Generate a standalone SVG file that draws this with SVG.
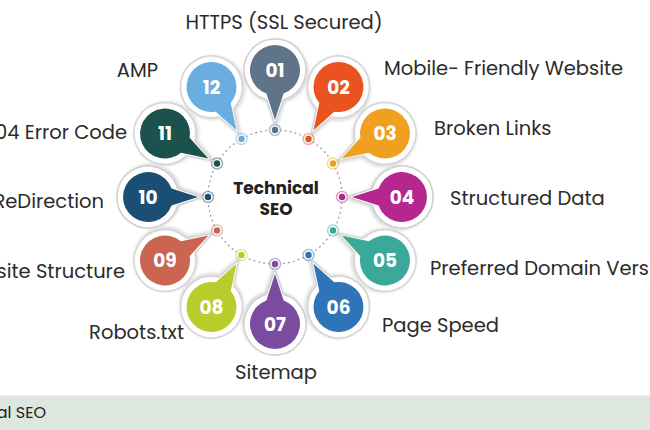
<svg xmlns="http://www.w3.org/2000/svg" xmlns:xlink="http://www.w3.org/1999/xlink" width="650" height="430" viewBox="0 0 650 430">
<style>
.lbl{font-family:"Poppins","Open Sans","Liberation Sans",sans-serif;font-size:19.5px;fill:#2b2b2b}
.num{font-family:"Poppins","Open Sans","Liberation Sans",sans-serif;font-size:18.5px;font-weight:700;fill:#ffffff;text-anchor:middle}
.ctr{font-family:"Poppins","Open Sans","Liberation Sans",sans-serif;font-size:17px;font-weight:700;fill:#222;text-anchor:middle}
.outer{fill:#ffffff;stroke:#cfcfcf;stroke-width:1.5}
.dotring{fill:#ffffff;stroke-width:1.5;stroke-opacity:0.45}
</style>
<defs>
<path id="pinOuter" d="M 8.5 29.8 A 31 31 0 1 0 -8.5 29.8 L 0 55 Z"/>
<path id="pinInner" d="M 8.6 23.5 A 25 25 0 1 0 -8.6 23.5 L 0 50 Z"/>
<filter id="sh" x="-30%" y="-30%" width="160%" height="160%">
<feDropShadow dx="1" dy="1.5" stdDeviation="1.5" flood-color="#000" flood-opacity="0.18"/>
</filter>
</defs>
<rect width="650" height="430" fill="#ffffff"/>

<g id="connectors">
<circle cx="275" cy="197" r="67" fill="none" stroke="#9a9a9a" stroke-width="1.2" stroke-dasharray="2 3"/>
</g>

<g id="center">
<text class="ctr" x="276" y="194">Technical</text>
<text class="ctr" x="276" y="215">SEO</text>
</g>

<g id="dots">
<g><circle class="dotring" cx="275" cy="130" r="5.5" stroke="#5f7389"/><circle cx="275" cy="130" r="3.2" fill="#5f7389"/></g>
<g><circle class="dotring" cx="308.5" cy="139" r="5.5" stroke="#e8531f"/><circle cx="308.5" cy="139" r="3.2" fill="#e8531f"/></g>
<g><circle class="dotring" cx="333" cy="163.5" r="5.5" stroke="#f0a020"/><circle cx="333" cy="163.5" r="3.2" fill="#f0a020"/></g>
<g><circle class="dotring" cx="342" cy="197" r="5.5" stroke="#b5278f"/><circle cx="342" cy="197" r="3.2" fill="#b5278f"/></g>
<g><circle class="dotring" cx="333" cy="230.5" r="5.5" stroke="#3aa99a"/><circle cx="333" cy="230.5" r="3.2" fill="#3aa99a"/></g>
<g><circle class="dotring" cx="308.5" cy="255" r="5.5" stroke="#2f73b9"/><circle cx="308.5" cy="255" r="3.2" fill="#2f73b9"/></g>
<g><circle class="dotring" cx="275" cy="264" r="5.5" stroke="#7b4ba0"/><circle cx="275" cy="264" r="3.2" fill="#7b4ba0"/></g>
<g><circle class="dotring" cx="241.5" cy="255" r="5.5" stroke="#b8cc2c"/><circle cx="241.5" cy="255" r="3.2" fill="#b8cc2c"/></g>
<g><circle class="dotring" cx="217" cy="230.5" r="5.5" stroke="#cc6452"/><circle cx="217" cy="230.5" r="3.2" fill="#cc6452"/></g>
<g><circle class="dotring" cx="208" cy="197" r="5.5" stroke="#1a4e72"/><circle cx="208" cy="197" r="3.2" fill="#1a4e72"/></g>
<g><circle class="dotring" cx="217" cy="163.5" r="5.5" stroke="#1c524e"/><circle cx="217" cy="163.5" r="3.2" fill="#1c524e"/></g>
<g><circle class="dotring" cx="241.5" cy="139" r="5.5" stroke="#6aaee0"/><circle cx="241.5" cy="139" r="3.2" fill="#6aaee0"/></g>
</g>

<g id="node01" transform="translate(275,70)">
<g transform="rotate(0)"><use href="#pinOuter" class="outer" filter="url(#sh)"/><use href="#pinInner" fill="#5f7389"/></g>
<text class="num" y="6.5">01</text>
</g>
<g id="node02" transform="translate(338.5,87)">
<g transform="rotate(30)"><use href="#pinOuter" class="outer" filter="url(#sh)"/><use href="#pinInner" fill="#e8531f"/></g>
<text class="num" y="6.5">02</text>
</g>
<g id="node03" transform="translate(385,133.5)">
<g transform="rotate(60)"><use href="#pinOuter" class="outer" filter="url(#sh)"/><use href="#pinInner" fill="#f0a020"/></g>
<text class="num" y="6.5">03</text>
</g>
<g id="node04" transform="translate(402,197)">
<g transform="rotate(90)"><use href="#pinOuter" class="outer" filter="url(#sh)"/><use href="#pinInner" fill="#b5278f"/></g>
<text class="num" y="6.5">04</text>
</g>
<g id="node05" transform="translate(385,260.5)">
<g transform="rotate(120)"><use href="#pinOuter" class="outer" filter="url(#sh)"/><use href="#pinInner" fill="#3aa99a"/></g>
<text class="num" y="6.5">05</text>
</g>
<g id="node06" transform="translate(338.5,307)">
<g transform="rotate(150)"><use href="#pinOuter" class="outer" filter="url(#sh)"/><use href="#pinInner" fill="#2f73b9"/></g>
<text class="num" y="6.5">06</text>
</g>
<g id="node07" transform="translate(275,324)">
<g transform="rotate(180)"><use href="#pinOuter" class="outer" filter="url(#sh)"/><use href="#pinInner" fill="#7b4ba0"/></g>
<text class="num" y="6.5">07</text>
</g>
<g id="node08" transform="translate(211.5,307)">
<g transform="rotate(210)"><use href="#pinOuter" class="outer" filter="url(#sh)"/><use href="#pinInner" fill="#b8cc2c"/></g>
<text class="num" y="6.5">08</text>
</g>
<g id="node09" transform="translate(165,260.5)">
<g transform="rotate(240)"><use href="#pinOuter" class="outer" filter="url(#sh)"/><use href="#pinInner" fill="#cc6452"/></g>
<text class="num" y="6.5">09</text>
</g>
<g id="node10" transform="translate(148,197)">
<g transform="rotate(270)"><use href="#pinOuter" class="outer" filter="url(#sh)"/><use href="#pinInner" fill="#1a4e72"/></g>
<text class="num" y="6.5">10</text>
</g>
<g id="node11" transform="translate(165,133.5)">
<g transform="rotate(300)"><use href="#pinOuter" class="outer" filter="url(#sh)"/><use href="#pinInner" fill="#1c524e"/></g>
<text class="num" y="6.5">11</text>
</g>
<g id="node12" transform="translate(211.5,87)">
<g transform="rotate(330)"><use href="#pinOuter" class="outer" filter="url(#sh)"/><use href="#pinInner" fill="#6aaee0"/></g>
<text class="num" y="6.5">12</text>
</g>

<g id="labels">
<text class="lbl" x="284" y="29" text-anchor="middle">HTTPS (SSL Secured)</text>
<text class="lbl" x="384" y="75">Mobile- Friendly Website</text>
<text class="lbl" x="434" y="135">Broken Links</text>
<text class="lbl" x="450" y="205">Structured Data</text>
<text class="lbl" x="430" y="275">Preferred Domain Version</text>
<text class="lbl" x="382" y="332">Page Speed</text>
<text class="lbl" x="276" y="379" text-anchor="middle">Sitemap</text>
<text class="lbl" x="184" y="339" text-anchor="end">Robots.txt</text>
<text class="lbl" x="125" y="278" text-anchor="end">Website Structure</text>
<text class="lbl" x="104" y="208" text-anchor="end">ReDirection</text>
<text class="lbl" x="127" y="139" text-anchor="end">404 Error Code</text>
<text class="lbl" x="158" y="77" text-anchor="end">AMP</text>
</g>

<g id="footer">
<rect x="0" y="395" width="650" height="35" fill="#dde6df"/>
<line x1="0" y1="395.5" x2="650" y2="395.5" stroke="#eef3ef" stroke-width="1"/>
<text x="46" y="418" text-anchor="end" style="font-family:'Poppins','Open Sans','Liberation Sans',sans-serif;font-size:16px;fill:#222">Technical SEO</text>
</g>
</svg>
